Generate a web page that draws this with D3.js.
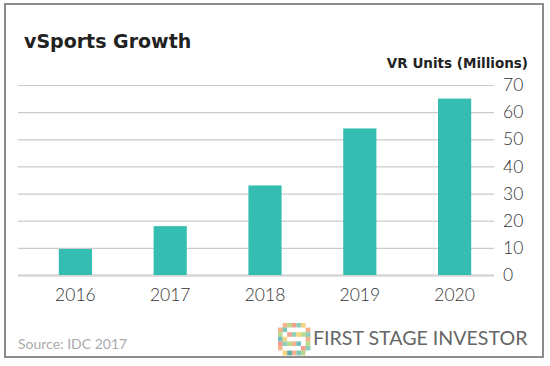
<!DOCTYPE html>
<html><head><meta charset="utf-8">
<script src="https://cdn.jsdelivr.net/npm/d3@7"></script>
<style>body{margin:0;background:#fff}svg{display:block}</style>
</head><body>
<script>
const years = ["2016","2017","2018","2019","2020"];
const units = [9.6, 18, 33, 54, 65];
const yTicks = [0,10,20,30,40,50,60,70];
const title = "vSports Growth";
const axisTitle = "VR Units (Millions)";
const source = "Source: IDC 2017";
const brand = "FIRST STAGE INVESTOR";

const W = 550, H = 366;
const svg = d3.select("body").append("svg").attr("width", W).attr("height", H);
svg.append("rect").attr("width", W).attr("height", H).attr("fill", "#fff");
svg.append("rect").attr("x", 5).attr("y", 4).attr("width", 538).attr("height", 353)
  .attr("fill", "none").attr("stroke", "#8c8c8c").attr("stroke-width", 2);

const x = d3.scaleBand().domain(years).range([28, 502]).paddingInner(0.65).paddingOuter(0.325);
const y = d3.scaleLinear().domain([0, 70]).range([275, 85]);

const font = "Lato, 'Open Sans', sans-serif";

// grid
const yAxis = d3.axisRight(y).tickValues(yTicks).tickSize(-(494 - 18)).tickPadding(9);
const ga = svg.append("g").attr("transform", "translate(494,0)").call(yAxis);
ga.select(".domain").remove();
ga.selectAll(".tick line").attr("stroke", d => d === 0 ? "#d6d6d6" : "#cbcbcb").attr("stroke-width", d => d === 0 ? 2.5 : 1.2);
ga.selectAll(".tick text").attr("font-family", font).attr("font-weight", 300).attr("font-size", 17.5).attr("fill", "#333").attr("x", 9);

// bars
svg.append("g").selectAll("rect").data(years).join("rect")
  .attr("x", d => x(d)).attr("width", x.bandwidth())
  .attr("y", (d, i) => y(units[i])).attr("height", (d, i) => y(0) - y(units[i]))
  .attr("fill", "#35bdb2");

// x axis
const xAxis = d3.axisBottom(x).tickSize(0).tickPadding(14);
const gx = svg.append("g").attr("transform", "translate(0,275)").call(xAxis);
gx.select(".domain").remove();
gx.selectAll(".tick text").attr("font-family", font).attr("font-weight", 300).attr("font-size", 17.5).attr("fill", "#333");

svg.append("text").attr("x", 24).attr("y", 48).text(title)
  .attr("font-family", "'DejaVu Sans', sans-serif").attr("font-weight", "bold").attr("font-size", 19).attr("fill", "#222");
svg.append("text").attr("x", 528).attr("y", 68).attr("text-anchor", "end").text(axisTitle)
  .attr("font-family", "'DejaVu Sans', sans-serif").attr("font-weight", "bold").attr("font-size", 13.5).attr("fill", "#222");
svg.append("text").attr("x", 18).attr("y", 349).text(source)
  .attr("font-family", font).attr("font-size", 14).attr("fill", "#aaa");
svg.append("text").attr("x", 313).attr("y", 345).text(brand)
  .attr("font-family", font).attr("font-size", 19.6).attr("fill", "#666");

// logo mosaic
const logoColors = [
  ["#fff","#f4b38c","#b9d98c","#f6a08c","#8fcfb9","#f7d57e","#fff"],
  ["#f4b38c","#7fc8b5","#fff","#fff","#fff","#fff","#f4b38c"],
  ["#b9d98c","#fff","#f6a08c","#8fcfb9","#f7d57e","#b9d98c","#8fcfb9"],
  ["#6fc0c5","#f7d57e","#fff","#fff","#fff","#fff","#f4b38c"],
  ["#f6a08c","#8fcfb9","#b9d98c","#f4b38c","#6fc0c5","#fff","#b9d98c"],
  ["#f4b38c","#fff","#fff","#fff","#fff","#f6a08c","#8fcfb9"],
  ["#fff","#f7d57e","#5aaea6","#f4b38c","#7fc8b5","#b9d98c","#fff"]
];
const logo = svg.append("g").attr("transform", "translate(278,323)");
const cs = 4.6;
logoColors.forEach((row, r) => row.forEach((c, k) => {
  logo.append("rect").attr("x", k * cs).attr("y", r * cs).attr("width", cs + 0.2).attr("height", cs + 0.2).attr("fill", c);
}));
</script>
</body></html>
